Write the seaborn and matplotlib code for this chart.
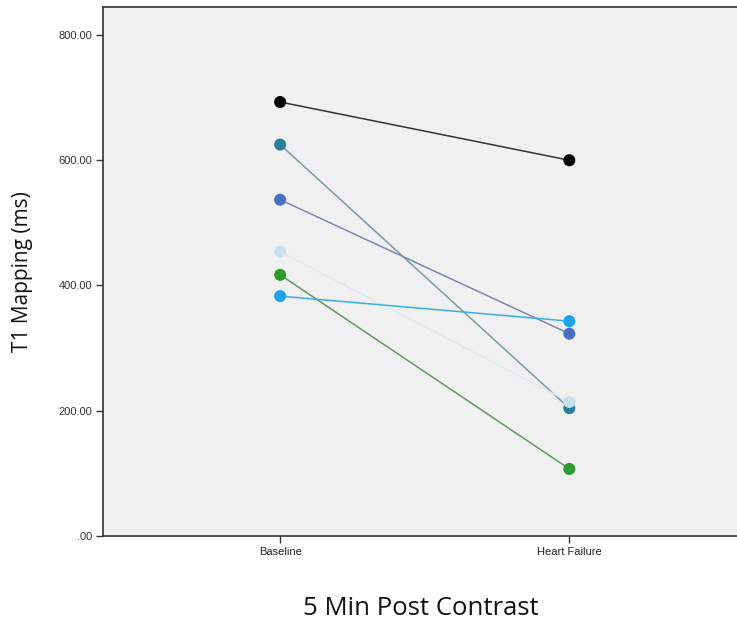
import matplotlib
matplotlib.use('Agg')
import matplotlib.pyplot as plt
import seaborn as sns
import pandas as pd

conditions = ['Baseline', 'Heart Failure']
subjects = ['S1', 'S2', 'S3', 'S4', 'S5', 'S6']
baseline = [693, 625, 537, 454, 417, 383]
heart_failure = [600, 204, 323, 214, 107, 343]
colors = ['#000000', '#2a7f98', '#4a70c2', '#c8e0f0', '#2e9a2e', '#1aa6e6']
line_colors = ['#333333', '#7a9aa6', '#7a88b0', '#dfe8ee', '#5f9a5f', '#35b0e6']

rows = []
for s, b, h in zip(subjects, baseline, heart_failure):
    rows.append({'Subject': s, 'Condition': 0, 'T1': b})
    rows.append({'Subject': s, 'Condition': 1, 'T1': h})
df = pd.DataFrame(rows)

sns.set_theme(style='white')
plt.rcParams['font.family'] = ['Open Sans', 'DejaVu Sans']

fig = plt.figure(figsize=(7.37, 6.21), dpi=100)
ax = fig.add_axes([0.14, 0.137, 0.862, 0.852])
ax.set_facecolor('#f0f0f0')

# lines first, then markers on top
sns.lineplot(data=df, x='Condition', y='T1', hue='Subject', palette=line_colors,
             linewidth=1.1, legend=False, ax=ax, zorder=2)
sns.scatterplot(data=df, x='Condition', y='T1', hue='Subject', palette=colors,
                s=75, edgecolor='none', legend=False, ax=ax, zorder=3)

ax.set_xlim(-0.612, 1.585)
ax.set_ylim(0, 845)
ax.set_xticks([0, 1])
ax.set_xticklabels(conditions, fontsize=8, color='#222222', family=['Liberation Sans'])
ax.set_yticks([0, 200, 400, 600, 800])
ax.set_yticklabels(['.00', '200.00', '400.00', '600.00', '800.00'], fontsize=8,
                   color='#333333', family=['Liberation Sans'])
ax.tick_params(axis='both', bottom=True, left=True, direction='out', length=5,
               width=1, color='#333333', pad=3)
for sp in ax.spines.values():
    sp.set_color('#333333')
    sp.set_linewidth(1.2)

ax.set_xlabel('5 Min Post Contrast', fontsize=18.5, labelpad=28, color='#111111')
ax.set_ylabel('T1 Mapping (ms)', fontsize=15, labelpad=18, color='#111111')

fig.savefig('out.png', dpi=100)
